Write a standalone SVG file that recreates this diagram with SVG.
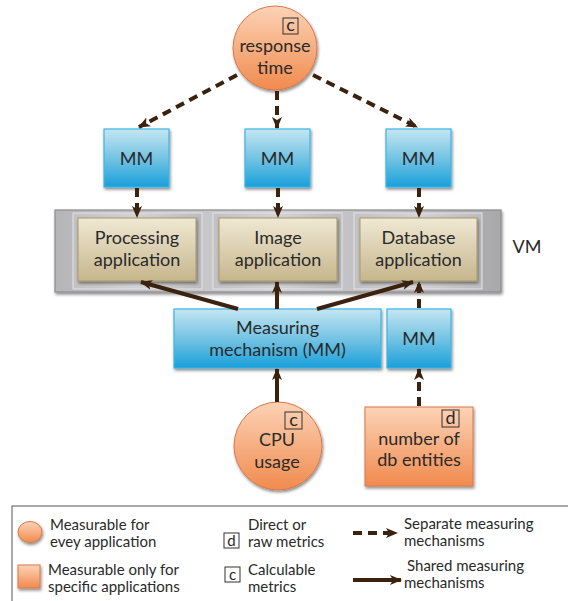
<svg xmlns="http://www.w3.org/2000/svg" width="568" height="601" viewBox="0 0 568 601">
<defs>
<linearGradient id="gOrange" x1="0" y1="0" x2="0" y2="1">
<stop offset="0" stop-color="#fcd3b6"/><stop offset="1" stop-color="#f18a4e"/>
</linearGradient>
<linearGradient id="gBlue" x1="0" y1="0" x2="0" y2="1">
<stop offset="0" stop-color="#c4e6f1"/><stop offset="0.55" stop-color="#6cc0e2"/><stop offset="1" stop-color="#18a0da"/>
</linearGradient>
<linearGradient id="gApp" x1="0" y1="0" x2="0" y2="1">
<stop offset="0" stop-color="#efe8d3"/><stop offset="1" stop-color="#c6b68d"/>
</linearGradient>
<linearGradient id="gVM" x1="0" y1="0" x2="1" y2="0">
<stop offset="0" stop-color="#b6b6b8"/><stop offset="0.5" stop-color="#cfcfd1"/><stop offset="1" stop-color="#a9a9ab"/>
</linearGradient>
<linearGradient id="gPanel" x1="0" y1="0" x2="1" y2="0">
<stop offset="0" stop-color="#c2c2c4"/><stop offset="0.5" stop-color="#d3d3d5"/><stop offset="1" stop-color="#bcbcbe"/>
</linearGradient>
<filter id="sh" x="-20%" y="-20%" width="140%" height="150%">
<feDropShadow dx="1" dy="2" stdDeviation="1.5" flood-color="#000" flood-opacity="0.45"/>
</filter>
<marker id="ah" viewBox="0 0 12 10" refX="11" refY="5" markerWidth="12" markerHeight="10" markerUnits="userSpaceOnUse" orient="auto">
<path d="M0,0 L12,5 L0,10 L3,5 z" fill="#3a220f"/>
</marker>
</defs>
<style>
text{font-family:Lato,"Open Sans","Liberation Sans",sans-serif;fill:#2a2a2a;}
.t{font-size:18px;text-anchor:middle;}
.lg{font-size:15px;}
.ball{fill:url(#gOrange);stroke:#d9784a;stroke-width:1;filter:url(#sh);}
.mm{fill:url(#gBlue);stroke:#3cb4e6;stroke-width:1.2;filter:url(#sh);}
.app{fill:url(#gApp);stroke:#a8976c;stroke-width:1;filter:url(#sh);}
.tag{fill:none;stroke:#333;stroke-width:1;}
.dash{fill:none;stroke:#3a220f;stroke-width:4;stroke-dasharray:9 6;marker-end:url(#ah);}
.solid{fill:none;stroke:#3a220f;stroke-width:4;marker-end:url(#ah);}
</style>
<g id="vm">
<rect x="55" y="210" width="446" height="82" fill="url(#gVM)" stroke="#8c8c8e" stroke-width="1.2" filter="url(#sh)"/>
<rect x="73" y="213" width="129" height="76" fill="url(#gPanel)" stroke="#e4e4e6" stroke-width="1"/>
<rect x="213" y="213" width="129" height="76" fill="url(#gPanel)" stroke="#e4e4e6" stroke-width="1"/>
<rect x="354" y="213" width="128" height="76" fill="url(#gPanel)" stroke="#e4e4e6" stroke-width="1"/>
<text x="527" y="253" class="t">VM</text>
</g>
<g id="response-time">
<circle cx="275" cy="48" r="42" class="ball"/>
<rect x="283" y="18" width="15" height="16" class="tag"/>
<text x="290.5" y="31" class="t" font-size="16">c</text>
<text x="275" y="52" class="t">response</text>
<text x="275" y="74" class="t">time</text>
</g>
<g id="mm1"><rect x="104" y="129" width="65" height="58" class="mm"/><text x="136.5" y="165" class="t">MM</text></g>
<g id="mm2"><rect x="245" y="129" width="65" height="58" class="mm"/><text x="277.5" y="165" class="t">MM</text></g>
<g id="mm3"><rect x="386" y="129" width="65" height="58" class="mm"/><text x="418.5" y="165" class="t">MM</text></g>
<g id="processing-app"><rect x="78" y="218" width="118" height="63" class="app"/><text x="137" y="244" class="t">Processing</text><text x="137" y="266" class="t">application</text></g>
<g id="image-app"><rect x="219" y="218" width="118" height="63" class="app"/><text x="278" y="244" class="t">Image</text><text x="278" y="266" class="t">application</text></g>
<g id="database-app"><rect x="360" y="218" width="117" height="63" class="app"/><text x="418.5" y="244" class="t">Database</text><text x="418.5" y="266" class="t">application</text></g>
<g id="measuring-mechanism"><rect x="174" y="309" width="207" height="59" class="mm"/><text x="277.5" y="334" class="t">Measuring</text><text x="277.5" y="356" class="t">mechanism (MM)</text></g>
<g id="mm4"><rect x="387" y="309" width="64" height="59" class="mm"/><text x="419" y="345" class="t">MM</text></g>
<g id="cpu-usage">
<circle cx="278" cy="446" r="44" class="ball"/>
<rect x="285" y="412" width="17" height="17" class="tag"/>
<text x="293.5" y="426" class="t" font-size="16">c</text>
<text x="277" y="446" class="t">CPU</text>
<text x="277" y="468" class="t">usage</text>
</g>
<g id="db-entities">
<rect x="365" y="407" width="108" height="79" fill="url(#gOrange)" stroke="#d9784a" stroke-width="1" filter="url(#sh)"/>
<rect x="442" y="410" width="17" height="17" class="tag"/>
<text x="450.5" y="424" class="t" font-size="16">d</text>
<text x="419" y="445" class="t">number of</text>
<text x="419" y="466" class="t">db entities</text>
</g>
<g id="connectors">
<line x1="237" y1="75" x2="139" y2="127" class="dash"/>
<line x1="277" y1="91" x2="277" y2="128" class="dash"/>
<line x1="313" y1="75" x2="417" y2="127" class="dash"/>
<line x1="137" y1="188" x2="137" y2="217" class="dash" stroke-dasharray="7 5"/>
<line x1="278" y1="188" x2="278" y2="217" class="dash" stroke-dasharray="7 5"/>
<line x1="419" y1="188" x2="419" y2="217" class="dash" stroke-dasharray="7 5"/>
<line x1="238" y1="309" x2="141" y2="282" class="solid"/>
<line x1="277" y1="309" x2="277" y2="282" class="solid"/>
<line x1="317" y1="309" x2="413" y2="282" class="solid"/>
<line x1="419" y1="308" x2="419" y2="282" class="dash" stroke-dasharray="7 5"/>
<line x1="277" y1="402" x2="277" y2="369" class="solid"/>
<line x1="419" y1="406" x2="419" y2="369" class="dash" stroke-dasharray="7 5"/>
</g>
<g id="legend">
<rect x="12" y="506" width="570" height="100" fill="#fff" stroke="#555" stroke-width="1"/>
<ellipse cx="30" cy="532" rx="12" ry="10.5" class="ball"/>
<text x="50" y="530" class="lg">Measurable for</text>
<text x="50" y="547" class="lg">evey application</text>
<rect x="18" y="565" width="22" height="23" fill="url(#gOrange)" stroke="#d9784a" stroke-width="1" filter="url(#sh)"/>
<text x="48" y="575" class="lg">Measurable only for</text>
<text x="48" y="592" class="lg">specific applications</text>
<rect x="224" y="533" width="15" height="15" class="tag"/>
<text x="231.5" y="546" class="lg" text-anchor="middle">d</text>
<text x="248" y="530" class="lg">Direct or</text>
<text x="248" y="547" class="lg">raw metrics</text>
<rect x="225" y="567" width="15" height="15" class="tag"/>
<text x="232.5" y="580" class="lg" text-anchor="middle">c</text>
<text x="248" y="575" class="lg">Calculable</text>
<text x="248" y="592" class="lg">metrics</text>
<line x1="353" y1="533" x2="397" y2="533" class="dash" stroke-width="3.5" stroke-dasharray="8 6"/>
<line x1="353" y1="580" x2="401" y2="580" class="solid" stroke-width="3.5"/>
<text x="404" y="529" class="lg">Separate measuring</text>
<text x="404" y="546" class="lg">mechanisms</text>
<text x="407" y="571" class="lg">Shared measuring</text>
<text x="404" y="588" class="lg">mechanisms</text>
</g>
</svg>
